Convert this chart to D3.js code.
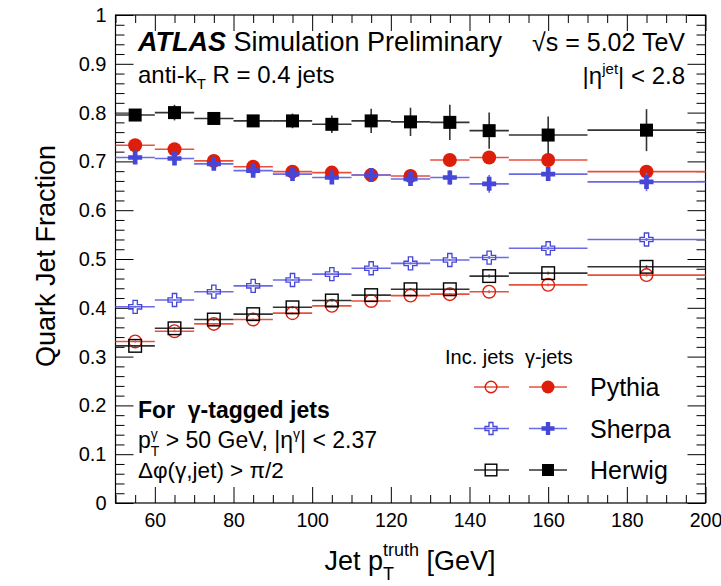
<!DOCTYPE html>
<html>
<head>
<meta charset="utf-8">
<script src="https://cdn.jsdelivr.net/npm/d3@7"></script>
<style>
  html, body { margin: 0; padding: 0; background: #fff; }
  svg text { font-family: "Liberation Sans", Arial, Helvetica, sans-serif; fill: #000; white-space: pre; }
</style>
</head>
<body>
<svg id="chart" width="721" height="586"></svg>
<script>
// Jet pT bins (GeV)
const binLo   = [50, 60, 70, 80, 90, 100, 110, 120, 130, 140, 150, 170];
const binHi   = [60, 70, 80, 90, 100, 110, 120, 130, 140, 150, 170, 200];
const centers = [55, 65, 75, 85, 95, 105, 115, 125, 135, 145, 160, 185];

// Quark jet fraction, inclusive jets
const pythiaInc = [0.331, 0.352, 0.367, 0.376, 0.389, 0.404, 0.414, 0.425, 0.428, 0.433, 0.447, 0.467];
const sherpaInc = [0.402, 0.416, 0.433, 0.445, 0.457, 0.469, 0.481, 0.491, 0.498, 0.503, 0.522, 0.540];
const herwigInc = [0.322, 0.358, 0.376, 0.387, 0.401, 0.415, 0.426, 0.438, 0.438, 0.465, 0.471, 0.484];
const incErr    = [0.002, 0.002, 0.002, 0.002, 0.002, 0.002, 0.002, 0.002, 0.002, 0.003, 0.003, 0.003];

// Quark jet fraction, photon-tagged jets
const pythiaGamma    = [0.733, 0.725, 0.701, 0.689, 0.679, 0.677, 0.672, 0.670, 0.703, 0.708, 0.703, 0.679];
const pythiaGammaErr = [0.004, 0.004, 0.004, 0.005, 0.005, 0.006, 0.007, 0.008, 0.009, 0.010, 0.010, 0.012];
const sherpaGamma    = [0.708, 0.706, 0.695, 0.681, 0.674, 0.667, 0.672, 0.664, 0.667, 0.654, 0.674, 0.658];
const sherpaGammaErr = [0.004, 0.004, 0.005, 0.006, 0.006, 0.007, 0.008, 0.009, 0.015, 0.018, 0.012, 0.019];
const herwigGamma    = [0.795, 0.800, 0.788, 0.783, 0.783, 0.776, 0.783, 0.781, 0.780, 0.763, 0.754, 0.764];
const herwigGammaErr = [0.008, 0.016, 0.010, 0.010, 0.015, 0.018, 0.025, 0.029, 0.036, 0.037, 0.038, 0.043];

// Axis ticks
const xMajor = [60, 80, 100, 120, 140, 160, 180, 200];
const yMajor = [0, 0.1, 0.2, 0.3, 0.4, 0.5, 0.6, 0.7, 0.8, 0.9, 1];
const yLabels = ["0", "0.1", "0.2", "0.3", "0.4", "0.5", "0.6", "0.7", "0.8", "0.9", "1"];

const RED = "#dd1e0a", RED_LINE = "#e8503e";
const BLUE = "#4646d8", BLUE_LINE = "#6a6ae6";
const BLACK = "#000", BLACK_LINE = "#333";
const FONT = "Liberation Sans, Arial, Helvetica, sans-serif";

const svg = d3.select("#chart");
const W = 721, H = 586;
const m = { left: 115.5, right: 15.5, top: 15, bottom: 83 };
const x = d3.scaleLinear().domain([50, 200]).range([m.left, W - m.right]);
const y = d3.scaleLinear().domain([0, 1]).range([H - m.bottom, m.top]);

// ---- axes (ROOT style: ticks inside, on all four sides) ----
const xMinor = d3.range(50, 201, 5).filter(v => v % 20 !== 0);
const yMinor = d3.range(0, 1.0001, 0.02).map(v => +v.toFixed(2)).filter(v => Math.abs(v * 10 - Math.round(v * 10)) > 1e-6);
const axisG = svg.append("g");

function styleAxis(g) {
  g.select(".domain").remove();
  g.selectAll(".tick line").attr("stroke", "#000").attr("stroke-width", 1);
}
// bottom
axisG.append("g").attr("transform", `translate(0,${y(0)})`)
  .call(d3.axisBottom(x).tickValues(xMajor).tickSize(-16).tickPadding(10).tickFormat(d3.format("d")))
  .call(styleAxis)
  .call(g => g.selectAll("text").attr("font-size", 19.5).attr("font-family", FONT));
axisG.append("g").attr("transform", `translate(0,${y(0)})`)
  .call(d3.axisBottom(x).tickValues(xMinor).tickSize(-8).tickFormat(""))
  .call(styleAxis);
// top
axisG.append("g").attr("transform", `translate(0,${y(1)})`)
  .call(d3.axisTop(x).tickValues(xMajor).tickSize(-16).tickFormat(""))
  .call(styleAxis);
axisG.append("g").attr("transform", `translate(0,${y(1)})`)
  .call(d3.axisTop(x).tickValues(xMinor).tickSize(-8).tickFormat(""))
  .call(styleAxis);
// left
axisG.append("g").attr("transform", `translate(${x(50)},0)`)
  .call(d3.axisLeft(y).tickValues(yMajor).tickSize(-18).tickPadding(9).tickFormat((d, i) => yLabels[i]))
  .call(styleAxis)
  .call(g => g.selectAll("text").attr("font-size", 20).attr("font-family", FONT));
axisG.append("g").attr("transform", `translate(${x(50)},0)`)
  .call(d3.axisLeft(y).tickValues(yMinor).tickSize(-9).tickFormat(""))
  .call(styleAxis);
// right
axisG.append("g").attr("transform", `translate(${x(200)},0)`)
  .call(d3.axisRight(y).tickValues(yMajor).tickSize(-18).tickFormat(""))
  .call(styleAxis);
axisG.append("g").attr("transform", `translate(${x(200)},0)`)
  .call(d3.axisRight(y).tickValues(yMinor).tickSize(-9).tickFormat(""))
  .call(styleAxis);
// frame
svg.append("rect").attr("x", x(50)).attr("y", y(1))
  .attr("width", x(200) - x(50)).attr("height", y(0) - y(1))
  .attr("fill", "none").attr("stroke", "#000").attr("stroke-width", 1.2);

// ---- markers ----
function crossPath(s) {
  const h = s / 2, a = s / 6;
  return `M${-a},${-h}L${a},${-h}L${a},${-a}L${h},${-a}L${h},${a}L${a},${a}L${a},${h}L${-a},${h}L${-a},${a}L${-h},${a}L${-h},${-a}L${-a},${-a}Z`;
}
function drawMarker(g, shape, filled, color, size) {
  if (shape === "circle") {
    g.append("circle").attr("r", filled ? size / 2 : size / 2 - 0.7)
      .attr("fill", filled ? color : "none").attr("stroke", color).attr("stroke-width", filled ? 0 : 1.4);
  } else if (shape === "square") {
    const s = filled ? size - 1 : size - 1.4;
    g.append("rect").attr("x", -s / 2).attr("y", -s / 2).attr("width", s).attr("height", s)
      .attr("fill", filled ? color : "none").attr("stroke", color).attr("stroke-width", filled ? 0 : 1.4);
  } else {
    g.append("path").attr("d", crossPath(filled ? size : size - 1))
      .attr("fill", filled ? color : "none").attr("stroke", color)
      .attr("stroke-width", filled ? 0 : 1.3).attr("stroke-linejoin", "miter");
  }
}

const series = [
  { vals: pythiaInc,   err: incErr,         shape: "circle", filled: false, color: RED,   line: RED_LINE },
  { vals: sherpaInc,   err: incErr,         shape: "cross",  filled: false, color: BLUE,  line: BLUE_LINE },
  { vals: herwigInc,   err: incErr,         shape: "square", filled: false, color: BLACK, line: BLACK_LINE },
  { vals: pythiaGamma, err: pythiaGammaErr, shape: "circle", filled: true,  color: RED,   line: RED_LINE },
  { vals: sherpaGamma, err: sherpaGammaErr, shape: "cross",  filled: true,  color: BLUE,  line: BLUE_LINE },
  { vals: herwigGamma, err: herwigGammaErr, shape: "square", filled: true,  color: BLACK, line: BLACK_LINE },
];
const MS = 14;
const plotG = svg.append("g");
series.forEach(s => {
  const g = plotG.append("g");
  const pts = centers.map((c, i) => ({ c, lo: binLo[i], hi: binHi[i], v: s.vals[i], e: s.err[i] }));
  g.selectAll("line.h").data(pts).join("line").attr("class", "h")
    .attr("x1", d => x(d.lo)).attr("x2", d => x(d.hi))
    .attr("y1", d => y(d.v)).attr("y2", d => y(d.v))
    .attr("stroke", s.line).attr("stroke-width", 1.6);
  g.selectAll("line.v").data(pts).join("line").attr("class", "v")
    .attr("x1", d => x(d.c)).attr("x2", d => x(d.c))
    .attr("y1", d => y(d.v - d.e)).attr("y2", d => y(d.v + d.e))
    .attr("stroke", s.line).attr("stroke-width", 1.6);
  pts.forEach(d => {
    const mg = g.append("g").attr("transform", `translate(${x(d.c)},${y(d.v)})`);
    drawMarker(mg, s.shape, s.filled, s.color, MS);
  });
});

// ---- text with sub/superscripts, laid out run by run ----
// run: {t, size, dy (baseline shift), bold, italic, stack (reuse previous x)}
function rich(x0, y0, runs, anchor) {
  const g = svg.append("g");
  let cx = 0, prevX = 0, maxX = 0;
  runs.forEach(r => {
    const px = r.stack ? prevX : cx;
    const el = g.append("text").attr("x", px).attr("y", r.dy || 0)
      .attr("font-size", r.size).text(r.t);
    if (r.bold) el.attr("font-weight", "bold");
    if (r.italic) el.attr("font-style", "italic");
    const w = el.node().getComputedTextLength();
    if (r.stack) { cx = Math.max(cx, px + w); }
    else { prevX = px; cx = px + w; }
    maxX = Math.max(maxX, cx);
  });
  let off = 0;
  if (anchor === "end") off = -maxX;
  else if (anchor === "middle") off = -maxX / 2;
  g.attr("transform", `translate(${x0 + off},${y0})`);
  return g;
}

rich(138, 51, [
  { t: "ATLAS", size: 27, bold: true, italic: true },
  { t: " Simulation Preliminary", size: 27 },
]);
rich(685, 51, [{ t: "\u221As = 5.02 TeV", size: 25 }], "end");
rich(138, 83, [
  { t: "anti-k", size: 24 },
  { t: "T", size: 15, dy: 6 },
  { t: " R = 0.4 jets", size: 24 },
]);
rich(685, 84, [
  { t: "|\u03B7", size: 24 },
  { t: "jet", size: 15, dy: -10 },
  { t: "| < 2.8", size: 24 },
], "end");

// y title
svg.append("text").attr("transform", `translate(55,256) rotate(-90)`)
  .attr("text-anchor", "middle").attr("font-size", 27).text("Quark Jet Fraction");

// x title
rich(410, 570, [
  { t: "Jet p", size: 27 },
  { t: "truth", size: 18, dy: -14 },
  { t: "T", size: 18, dy: 10, stack: true },
  { t: " [GeV]", size: 27 },
], "middle");

// selection notes
rich(138, 418, [{ t: "For  \u03B3-tagged jets", size: 23, bold: true }]);
rich(138, 448, [
  { t: "p", size: 23 },
  { t: "\u03B3", size: 14, dy: -9 },
  { t: "T", size: 14, dy: 8, stack: true },
  { t: " > 50 GeV, |\u03B7", size: 23 },
  { t: "\u03B3", size: 14, dy: -9 },
  { t: "| < 2.37", size: 23 },
]);
rich(138, 478, [{ t: "\u0394\u03C6(\u03B3,jet) > \u03C0/2", size: 22.5 }]);

// ---- legend ----
rich(445, 364, [{ t: "Inc. jets  \u03B3-jets", size: 20 }]);
const legRows = [
  { name: "Pythia", shape: "circle", color: RED,   line: RED_LINE },
  { name: "Sherpa", shape: "cross",  color: BLUE,  line: BLUE_LINE },
  { name: "Herwig", shape: "square", color: BLACK, line: BLACK_LINE },
];
const legY = d3.scalePoint().domain(legRows.map(r => r.name)).range([387, 470]);
legRows.forEach(r => {
  const yy = legY(r.name);
  [[474, 509, 491, false], [529, 567, 548, true]].forEach(([a, b, c, filled]) => {
    svg.append("line").attr("x1", a).attr("x2", b).attr("y1", yy).attr("y2", yy)
      .attr("stroke", r.line).attr("stroke-width", 1.6);
    const mg = svg.append("g").attr("transform", `translate(${c},${yy})`);
    drawMarker(mg, r.shape, filled, r.color, 13);
  });
  rich(590, yy + 9, [{ t: r.name, size: 25 }]);
});
</script>
</body>
</html>
